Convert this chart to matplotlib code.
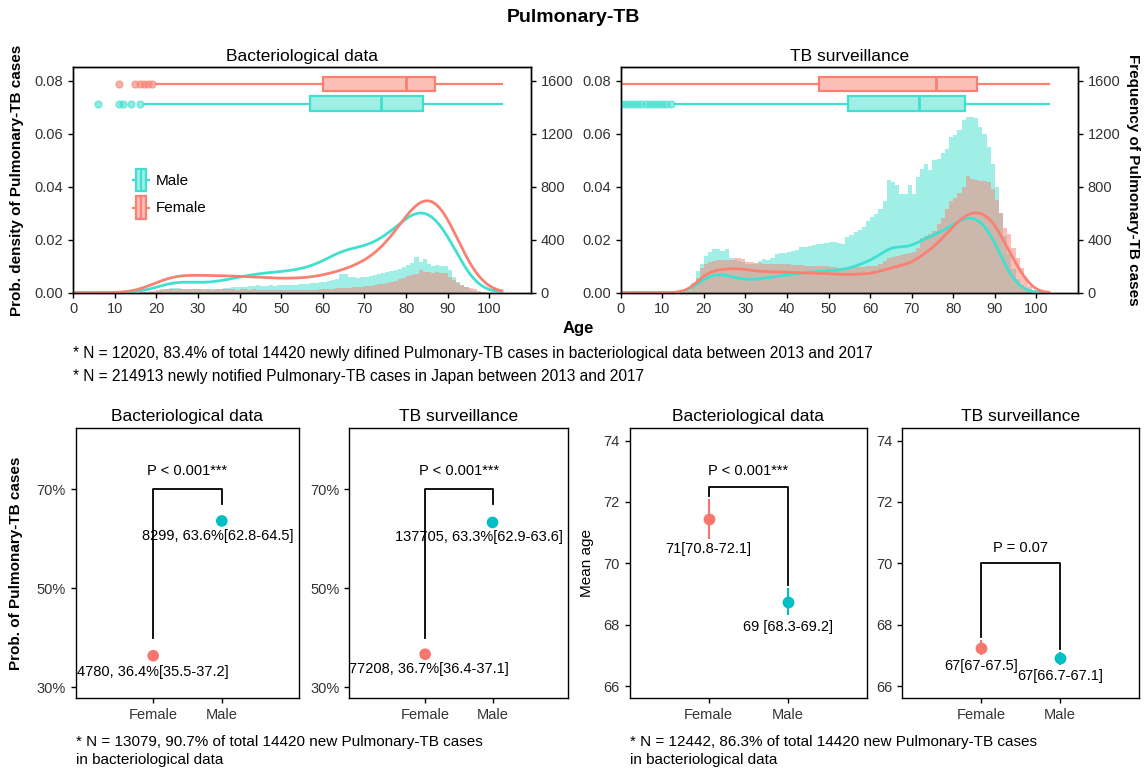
import numpy as np
import matplotlib
matplotlib.use("Agg")
import matplotlib.pyplot as plt
from matplotlib.patches import Rectangle, Patch
from matplotlib.lines import Line2D
from matplotlib.legend_handler import HandlerBase

plt.rcParams['font.family'] = ['Liberation Sans', 'DejaVu Sans']

# ---- data ----
hist_ages = np.arange(15, 100)  # one-year bins, left edges

hist_bact_male = [
    0, 2, 3, 5, 8, 12, 25, 30, 33, 35,
    34, 31, 30, 27, 26, 25, 23, 25, 27, 28,
    31, 33, 36, 40, 42, 45, 43, 48, 50, 58,
    52, 54, 56, 53, 56, 58, 60, 57, 60, 62,
    64, 66, 70, 74, 79, 84, 90, 96, 104, 138,
    142, 120, 116, 110, 116, 122, 128, 132, 140, 150,
    156, 162, 170, 180, 192, 206, 222, 268, 234, 256,
    220, 202, 206, 200, 204, 168, 120, 82, 58, 40,
    20, 10, 5, 2, 1]
hist_bact_female = [
    1, 3, 6, 10, 15, 18, 22, 25, 26, 27,
    29, 27, 30, 26, 28, 25, 27, 29, 24, 26,
    27, 25, 26, 28, 24, 26, 25, 24, 25, 23,
    24, 22, 23, 21, 23, 22, 21, 23, 22, 21,
    22, 23, 24, 24, 26, 27, 29, 30, 32, 35,
    36, 38, 41, 43, 46, 49, 53, 57, 62, 68,
    75, 83, 92, 102, 114, 126, 135, 144, 168, 158,
    155, 152, 153, 150, 148, 120, 95, 70, 56, 42,
    32, 26, 14, 5, 2]
hist_surv_male = [
    5, 20, 75, 165, 215, 280, 305, 330, 330, 318,
    330, 265, 245, 240, 230, 215, 215, 215, 240, 253,
    245, 265, 290, 303, 303, 305, 316, 325, 341, 341,
    350, 362, 365, 367, 375, 380, 380, 378, 370, 417,
    435, 455, 475, 493, 544, 570, 594, 630, 690, 847,
    834, 809, 746, 746, 809, 746, 872, 935, 973, 922,
    998, 1011, 1050, 1087, 1175, 1188, 1226, 1300, 1326, 1326,
    1314, 1251, 1200, 1100, 973, 800, 600, 430, 290, 180,
    100, 55, 25, 10, 4]
hist_surv_female = [
    5, 15, 50, 113, 190, 215, 235, 240, 245, 245,
    245, 250, 258, 262, 255, 235, 228, 225, 222, 220,
    220, 218, 215, 215, 215, 213, 212, 210, 208, 205,
    205, 203, 202, 200, 198, 195, 193, 190, 190, 190,
    190, 192, 194, 196, 198, 200, 205, 215, 240, 265,
    270, 277, 282, 290, 300, 310, 340, 416, 430, 441,
    466, 520, 567, 630, 693, 718, 750, 794, 882, 857,
    850, 844, 840, 832, 781, 700, 600, 491, 441, 340,
    265, 189, 113, 50, 20]

# boxplot summaries (age)
box_bact_male = dict(q1=57, med=74, q3=84, whislo=17, whishi=103, fliers=[6, 11, 12, 14, 16])
box_bact_female = dict(q1=60, med=80, q3=87, whislo=20, whishi=103, fliers=[11, 15, 16, 17, 18, 19])
box_surv_male = dict(q1=54.6, med=71.8, q3=82.8, whislo=13, whishi=103, fliers=list(range(0, 13)))
box_surv_female = dict(q1=47.6, med=75.8, q3=85.7, whislo=0, whishi=103, fliers=[])

groups = ['Female', 'Male']
prop_bact = [36.4, 63.6]
prop_bact_text = ['4780, 36.4%[35.5-37.2]', '8299, 63.6%[62.8-64.5]']
prop_surv = [36.7, 63.3]
prop_surv_text = ['77208, 36.7%[36.4-37.1]', '137705, 63.3%[62.9-63.6]']
age_bact_mean = [71.45, 68.75]
age_bact_lo = [70.8, 68.3]
age_bact_hi = [72.1, 69.2]
age_bact_text = ['71[70.8-72.1]', '69 [68.3-69.2]']
age_surv_mean = [67.25, 66.9]
age_surv_lo = [67.0, 66.7]
age_surv_hi = [67.5, 67.1]
age_surv_text = ['67[67-67.5]', '67[66.7-67.1]']

MALE = '#40E0D0'
FEMALE = '#FA8072'
DOTS = ['#F8766D', '#00BFC4']
TICK = '#333333'

W, H = 1146, 769
fig = plt.figure(figsize=(W / 100, H / 100), dpi=100)


def px_axes(l, t, r, b):
    return fig.add_axes([l / W, 1 - b / H, (r - l) / W, (b - t) / H])


def style(ax):
    for s in ax.spines.values():
        s.set_linewidth(1.0)
    ax.tick_params(direction='out', length=3.5, width=1.0, labelsize=10.5, labelcolor=TICK)


def kde(counts, grid, bw):
    c = np.asarray(counts, float)
    w = c / c.sum()
    z = (grid[:, None] - (hist_ages + 0.5)[None, :]) / bw
    return (w * np.exp(-0.5 * z ** 2)).sum(1) / (bw * np.sqrt(2 * np.pi))


class BoxKey(HandlerBase):
    def create_artists(self, legend, orig, xd, yd, width, height, fontsize, trans):
        c = orig.get_edgecolor()
        bw = width * 0.66
        x0 = (width - bw) / 2 - xd
        y0 = -yd
        r = Rectangle((x0, y0), bw, height, facecolor=orig.get_facecolor(),
                      edgecolor=c, lw=1.6, transform=trans)
        m = Line2D([x0 + bw / 2] * 2, [y0, y0 + height], color=c, lw=1.6, transform=trans)
        wl = Line2D([-xd, x0], [y0 + height / 2] * 2, color=c, lw=1.6, transform=trans)
        wr = Line2D([x0 + bw, width - xd], [y0 + height / 2] * 2, color=c, lw=1.6, transform=trans)
        return [wl, wr, r, m]


def age_panel(ax, hm, hf, bm, bf, title, bw):
    ax2 = ax.twinx()
    edges = np.append(hist_ages, hist_ages[-1] + 1)
    ax2.hist(hist_ages, bins=edges, weights=hm, color=MALE, alpha=0.5, lw=0)
    ax2.hist(hist_ages, bins=edges, weights=hf, color=FEMALE, alpha=0.5, lw=0)
    ax2.set_ylim(0, 1700)
    ax2.set_yticks(range(0, 1601, 400))
    ax.set_zorder(ax2.get_zorder() + 1)
    ax.patch.set_visible(False)

    grid = np.linspace(0, 103, 600)
    ax.plot(grid, kde(hm, grid, bw), color=MALE, lw=2)
    ax.plot(grid, kde(hf, grid, bw), color=FEMALE, lw=2)

    for st, y, c in ((bm, 0.0713, MALE), (bf, 0.0788, FEMALE)):
        st = dict(st, fliers=np.array(st['fliers'], float))
        ax.bxp([st], positions=[y], widths=0.0054, orientation='horizontal',
               patch_artist=True, showcaps=False, manage_ticks=False,
               boxprops=dict(facecolor=(c, 0.5), edgecolor=c, linewidth=1.6),
               medianprops=dict(color=c, linewidth=2),
               whiskerprops=dict(color=c, linewidth=1.6),
               flierprops=dict(marker='o', markerfacecolor=c, markeredgecolor=c,
                               alpha=0.6, markersize=5))

    ax.set_xlim(0, 110)
    ax.set_ylim(0, 0.085)
    ax.set_xticks(range(0, 101, 10))
    ax.set_yticks(np.arange(0, 0.081, 0.02))
    ax.yaxis.set_major_formatter(plt.FormatStrFormatter('%.2f'))
    ax.set_title(title, fontsize=12.5, pad=4.5)
    style(ax)
    style(ax2)


axA = px_axes(73, 67.3, 531, 292.7)
axB = px_axes(620.7, 67.3, 1078, 292.7)
age_panel(axA, hist_bact_male, hist_bact_female, box_bact_male, box_bact_female,
          'Bacteriological data', 3.7)
age_panel(axB, hist_surv_male, hist_surv_female, box_surv_male, box_surv_female,
          'TB surveillance', 2.2)

handles = [Patch(facecolor=(MALE, 0.5), edgecolor=MALE, label='Male'),
           Patch(facecolor=(FEMALE, 0.5), edgecolor=FEMALE, label='Female')]
axA.legend(handles=handles, handler_map={Patch: BoxKey()}, loc='upper left',
           bbox_to_anchor=(0.131, 0.55), frameon=False, fontsize=11,
           handlelength=1.05, handleheight=1.9, labelspacing=0.32,
           handletextpad=0.45, borderpad=0, borderaxespad=0)


def bracket(ax, y_bar, y_left, y_right, text, ty):
    ax.plot([1, 1, 2, 2], [y_left, y_bar, y_bar, y_right], color='black', lw=1.3, zorder=2)
    ax.text(1.5, ty, text, ha='center', va='center', fontsize=10.5)


def prop_panel(ax, vals, texts, dx, dy, title):
    x = np.arange(1, len(groups) + 1)
    ax.scatter(x, vals, s=70, c=DOTS, zorder=3, linewidths=0)
    for xi, v, t, ddx, ddy in zip(x, vals, texts, dx, dy):
        ax.annotate(t, (xi + ddx, v), xytext=(0, ddy), textcoords='offset points',
                    ha='center', va='center', fontsize=10.5)
    ax.set_xlim(-0.13, 3.12)
    ax.set_ylim(27.8, 82.3)
    ax.set_xticks(x, groups)
    ax.set_yticks([30, 50, 70], ['30%', '50%', '70%'])
    ax.set_title(title, fontsize=12.5, pad=5)
    style(ax)


def mean_panel(ax, mean, lo, hi, texts, dy, title):
    x = np.arange(1, len(groups) + 1)
    for xi, m, l, h, c in zip(x, mean, lo, hi, DOTS):
        ax.errorbar([xi], [m], yerr=[[m - l], [h - m]], fmt='o', color=c, ms=8.5,
                    mew=0, elinewidth=1.5, capsize=0, zorder=3)
    for xi, m, t, ddy in zip(x, mean, texts, dy):
        ax.annotate(t, (xi, m), xytext=(0, ddy), textcoords='offset points',
                    ha='center', va='center', fontsize=10.5)
    ax.set_xlim(0, 3)
    ax.set_ylim(65.6, 74.4)
    ax.set_xticks(x, groups)
    ax.set_yticks([66, 68, 70, 72, 74])
    ax.set_title(title, fontsize=12.5, pad=5)
    style(ax)


ax1 = px_axes(75.7, 428.3, 298.6, 698.3)
ax2 = px_axes(349, 428.3, 568, 698.3)
ax3 = px_axes(629.5, 428.3, 867, 698.3)
ax4 = px_axes(902.4, 428.3, 1138.8, 698.3)

prop_panel(ax1, prop_bact, prop_bact_text, [0, -0.06], [-11.5, -10.5], 'Bacteriological data')
bracket(ax1, 70, 40, 67, 'P < 0.001***', 73.7)
prop_panel(ax2, prop_surv, prop_surv_text, [0.05, -0.2], [-10.5, -10.5], 'TB surveillance')
bracket(ax2, 70, 40, 67, 'P < 0.001***', 73.7)
mean_panel(ax3, age_bact_mean, age_bact_lo, age_bact_hi, age_bact_text, [-22, -18], 'Bacteriological data')
bracket(ax3, 72.5, 72.2, 69.3, 'P < 0.001***', 73.0)
mean_panel(ax4, age_surv_mean, age_surv_lo, age_surv_hi, age_surv_text, [-13, -12.5], 'TB surveillance')
bracket(ax4, 70.0, 67.6, 67.2, 'P = 0.07', 70.5)

# ---- figure text ----
fig.text(573 / W, 1 - 18 / H, 'Pulmonary-TB', ha='center', va='center', fontsize=14, fontweight='bold')
fig.text(17 / W, 1 - 180 / H, 'Prob. density of Pulmonary-TB cases', rotation=90,
         ha='center', va='center', fontsize=11, fontweight='bold')
fig.text(1133 / W, 1 - 180 / H, 'Frequency of Pulmonary-TB cases', rotation=270,
         ha='center', va='center', fontsize=11, fontweight='bold')
fig.text(578 / W, 1 - 329 / H, 'Age', ha='center', va='center', fontsize=12, fontweight='bold')
fig.text(73 / W, 1 - 354 / H,
         '* N = 12020, 83.4% of total 14420 newly difined Pulmonary-TB cases in bacteriological data between 2013 and 2017',
         va='center', fontsize=11.2)
fig.text(73 / W, 1 - 376 / H,
         '* N = 214913 newly notified Pulmonary-TB cases in Japan between 2013 and 2017',
         va='center', fontsize=11.2)
fig.text(16 / W, 1 - 563 / H, 'Prob. of Pulmonary-TB cases', rotation=90,
         ha='center', va='center', fontsize=11, fontweight='bold')
fig.text(587 / W, 1 - 563 / H, 'Mean age', rotation=90, ha='center', va='center', fontsize=11)
fig.text(76 / W, 1 - 742 / H, '* N = 13079, 90.7% of total 14420 new Pulmonary-TB cases',
         va='center', fontsize=11)
fig.text(76 / W, 1 - 760 / H, 'in bacteriological data', va='center', fontsize=11)
fig.text(629.5 / W, 1 - 742 / H, '* N = 12442, 86.3% of total 14420 new Pulmonary-TB cases',
         va='center', fontsize=11)
fig.text(629.5 / W, 1 - 760 / H, 'in bacteriological data', va='center', fontsize=11)

fig.savefig('out.png', dpi=100)
